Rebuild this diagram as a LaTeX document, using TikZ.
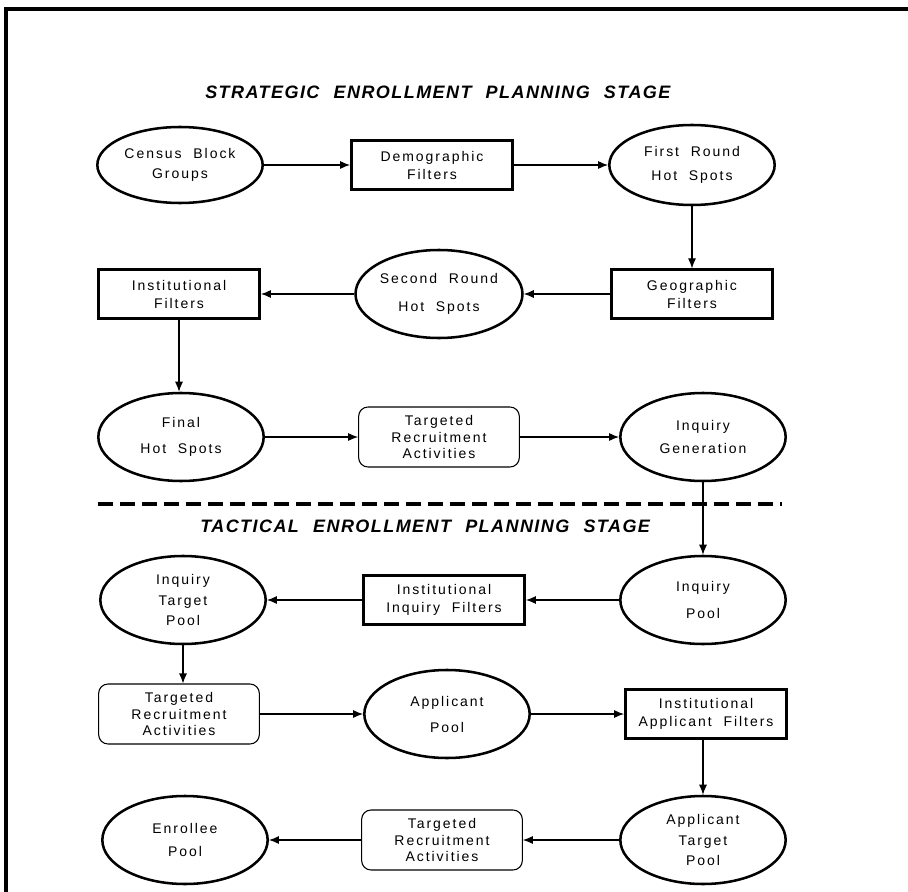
\documentclass[tikz,border=0pt]{standalone}
\usepackage{fontspec}
\setmainfont{Liberation Sans}
\newfontfamily\nodefont[LetterSpace=14,WordSpace=2]{Liberation Sans}
\newfontfamily\headfont[LetterSpace=8,WordSpace=2.2]{Liberation Sans}
\usetikzlibrary{shapes.geometric,arrows.meta}
\begin{document}
\begin{tikzpicture}[x=0.75pt,y=-0.75pt,
  oval/.style={ellipse,draw,line width=1.9pt,inner sep=0pt,minimum width=124pt,minimum height=66pt,align=center,font=\nodefont\fontsize{10.5}{15.5}\selectfont},
  box/.style={rectangle,draw,line width=1.9pt,inner sep=0pt,minimum width=121pt,minimum height=36.5pt,align=center,font=\nodefont\fontsize{10.5}{13.5}\selectfont},
  rbox/.style={rectangle,rounded corners=7pt,draw,line width=0.8pt,inner sep=0pt,minimum width=120.5pt,minimum height=45pt,align=center,font=\nodefont\fontsize{10.5}{12.5}\selectfont},
  arr/.style={-{Latex[length=7.5pt,width=6pt]},line width=0.8pt},
  head/.style={font=\headfont\bfseries\itshape\fontsize{13.5}{15}\selectfont,inner sep=0pt,anchor=west}]
\useasboundingbox (0,0) rectangle (908,892);
% frame
\coordinate (fa) at (6,892);
\coordinate (fb) at (6,9);
\coordinate (fc) at (908,9);
\draw[line width=2.4pt] (fa) -- (fb) -- (fc);

% titles
\node[head] (t1) at (205,92) {STRATEGIC ENROLLMENT PLANNING STAGE};
\node[head] (t2) at (200,526) {TACTICAL ENROLLMENT PLANNING STAGE};

% dashed separator
\coordinate (da) at (98,504);
\coordinate (db) at (782,504);
\draw[line width=2.6pt,dash pattern=on 11pt off 5.5pt] (da) -- (db);

% row 1
\node[oval,minimum height=57pt] (census) at (180,165) {Census Block\\Groups};
\node[box] (demo) at (432,165) {Demographic\\Filters};
\node[oval,minimum height=60pt] (first) at (692,165) {First Round\\[3pt]Hot Spots};
% row 2
\node[box] (inst) at (179,294) {Institutional\\Filters};
\node[oval] (second) at (439,294) {Second Round\\[6pt]Hot Spots};
\node[box] (geo) at (692,294) {Geographic\\Filters};
% row 3
\node[oval] (final) at (181,437) {Final\\[4pt]Hot Spots};
\node[rbox] (tra1) at (439,437) {Targeted\\Recruitment\\Activities};
\node[oval] (inqgen) at (703,437) {Inquiry\\[1.5pt]Generation};
% row 4
\node[oval] (itp) at (183,600) {Inquiry\\Target\\Pool};
\node[box] (iif) at (444,600) {Institutional\\Inquiry Filters};
\node[oval] (inqpool) at (703,600) {Inquiry\\[4.5pt]Pool};
% row 5
\node[rbox] (tra2) at (179,714) {Targeted\\Recruitment\\Activities};
\node[oval] (apppool) at (447,714) {Applicant\\[4pt]Pool};
\node[box] (iaf) at (706,714) {Institutional\\Applicant Filters};
% row 6
\node[oval] (enrollee) at (185,840) {Enrollee\\[1.5pt]Pool};
\node[rbox] (tra3) at (442,840) {Targeted\\Recruitment\\Activities};
\node[oval] (atp) at (703,840) {Applicant\\Target\\Pool};

% connectors
\draw[arr] (census) -- (demo);
\draw[arr] (demo) -- (first);
\draw[arr] (first) -- (geo);
\draw[arr] (geo) -- (second);
\draw[arr] (second) -- (inst);
\draw[arr] (inst.south) -- (inst.south |- final.north);
\draw[arr] (final) -- (tra1);
\draw[arr] (tra1) -- (inqgen);
\draw[arr] (inqgen) -- (inqpool);
\draw[arr] (inqpool) -- (iif);
\draw[arr] (iif) -- (itp);
\draw[arr] (itp.south) -- (itp.south |- tra2.north);
\draw[arr] (tra2) -- (apppool);
\draw[arr] (apppool) -- (iaf);
\draw[arr] (atp.north |- iaf.south) -- (atp.north);
\draw[arr] (atp) -- (tra3);
\draw[arr] (tra3) -- (enrollee);
\end{tikzpicture}
\end{document}
